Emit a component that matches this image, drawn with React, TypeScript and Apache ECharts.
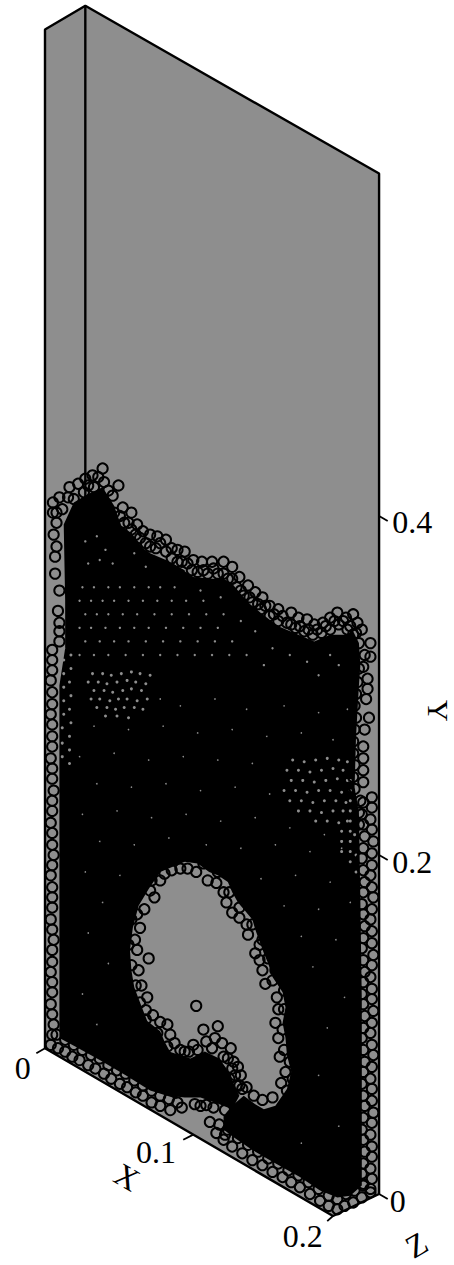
import React, { useEffect, useRef } from "react";
import * as echarts from "echarts";

// All values in thousandths of a plot unit on the projected view plane: [across, up]
const boxFace = [[0,687],[28,701],[232,602],[232,0],[200,-13],[0,86]];
const boxEdges = [
  [[0,86],[0,687],[28,701],[232,602],[232,0],[200,-13],[0,86]],
  [[28,701],[28,410]],
];
const tickSegments = [
  [[0,86],[-6,83]],[[103,35],[96,32]],[[200,-13],[196,-16]],
  [[232,400],[238,397]],[[232,200],[238,197]],[[232,0],[238,-3]],
];
const tickLabels: [number, number, string][] = [
  [-15.5,74.5,"0"],[77,25,"0.1"],[179,-24.5,"0.2"],
  [255,396.5,"0.4"],[255,196,"0.2"],[245,-4,"0"],
];
const axisNames: [number, number, string, number, number][] = [
  [57,10,"X",-30,32],[258,-30,"Z",30,32],[273.5,285,"Y",-90,30],
];

const coreLeft = [[10,92],[10,173],[10,232],[10,300],[14,322],[14,350],[13,395],[20,408],[30,413],[40,417],[48,406],[53,394],[60,390],[68,381],[73,378],[84,374],[97,368],[97,196],[80,190],[72,180],[65,170],[61,157],[59,144],[60,132],[62,122],[66,113],[71,102],[80,96],[83,90],[88,82],[92,70],[92,56],[73,61],[56,70],[38,79],[21,87]];
const coreRight = [[94,369],[103,364],[116,363],[124,363],[130,360],[141,349],[151,342],[162,335],[176,330],[187,326],[198,330],[209,330],[214,332],[218,325],[219,312],[218,300],[216,270],[215,240],[218,225],[219,173],[220,114],[220,55],[220,5],[212,-1],[203,-2],[191,2],[177,10],[158,19],[144,26],[130,34],[124,38],[124,46],[130,52],[138,58],[146,53],[152,50],[160,52],[168,62],[171,72],[168,82],[167,92],[165,101],[167,110],[165,119],[158,128],[155,136],[152,142],[146,156],[144,162],[138,168],[134,172],[130,178],[127,184],[120,188],[114,190],[106,195],[97,196],[94,196]];
const coreMound = [[86,84],[101,80],[111,84],[121,80],[126,74],[130,67],[135,58],[130,50],[118,54],[108,57],[97,57],[86,58]];

const crestOuter = [[5.5,408],[10,411],[17,417],[23,419],[28,422],[33,424],[40,428],[51,418],[54,405],[60,402],[64,395],[68,391],[73,389],[78,388],[84,386],[88,381],[92,380],[97,379],[103,374],[109,373],[116,373],[124,373],[130,370],[135,364],[141,359],[146,355],[151,352],[156,347],[162,345],[171,343],[176,340],[182,339],[187,336],[193,337],[198,340],[203,343],[209,340],[214,342],[217,337],[220,333],[226,325],[226,317]];
const crestMiddle = [[12,404],[20,410],[27,414],[34,417],[41,420],[47,412],[52,400],[58,396],[63,389],[70,384],[77,381],[84,379],[92,373],[99,372],[106,367],[113,366],[120,366],[127,363],[133,358],[138,353],[144,349],[150,345],[156,341],[162,338],[168,337],[174,334],[180,332],[186,330],[192,331],[198,333],[204,336],[210,333],[214,330],[218,325],[222,318],[221,311]];
const crestFill = [[8,402],[16,411],[30,418],[37,423],[44,415],[48,402],[55,396],[60,392],[66,387],[73,382],[80,384],[88,375],[95,373],[102,368],[110,368],[117,369],[124,366],[130,363],[136,356],[142,352],[148,348],[153,347],[159,342],[165,341],[171,336],[177,335],[183,333],[189,333],[195,335],[201,338],[207,338],[212,335],[216,331]];

const holeEdge = [[83,189],[88,191],[94,192],[99,192],[105,190],[113,185],[119,183.5],[124,178],[126,172],[130,166],[135,163],[140,159],[141,153],[146,142],[149,147],[149,138],[151,132],[153,124],[158,126],[161,116],[162,109],[160,101],[162,92],[165,97],[163,81],[167,72],[164,65.5],[158,57],[151,55.5],[145,58],[140,63],[133,64],[128,68],[80,185],[76,175],[69,168],[73,179],[66,157],[64,144],[62.5,150],[72,139],[65,132],[67,123],[71,116],[70,108.5],[75,105.5],[80,101.5],[85,100],[87,94],[90,89],[94,85],[97,84]];
const holeBacking = [[60,162],[58,147],[60,135],[63,123],[66,113],[70,103],[78,95],[85,87],[92,78],[74,185],[64,165],[120,190],[128,178],[135,169],[144,159],[151,150],[155,139],[160,132],[166,120],[166,109],[166,85],[170,78],[172,68],[168,61],[110,195]];
const moundGrains = [[105,111],[110,97],[120,99],[112,90],[118,92],[123,89],[129,86],[106,85],[124,81],[134,75],[130,74],[132,70],[135,64],[95,51],[104,53],[108,52],[112,52.5],[117,51],[125,49.5],[114.5,42.5],[119,36],[121,41],[125,35],[100,84],[103,88],[116,86],[127,80],[131,78],[136,70],[137,62]];

const floorLeftA = [[4,88],[9,86],[14,84],[19,81],[24,79],[30,76],[35,74],[41,71],[46,68],[52,65],[57,63],[63,60],[68,58],[74,54],[80,52],[87,49.5]];
const floorLeftB = [[8,94],[14,91],[20,88],[26,85],[32,82],[38,80],[44,76],[50,73],[56,71],[62,67],[68,64],[74,61],[80,58],[86,56],[92,54]];
const floorRightA = [[124,32],[130,28],[137,24],[144,20],[151,17],[158,13],[165,10],[171,7],[177,4],[184,0],[191,-4],[197,-7],[203,-9],[208,-7],[214,-5],[220,-2],[226,1]];
const floorRightB = [[127,38],[134,33],[141,29],[148,25],[155,21],[162,18],[169,14],[176,11],[183,7],[190,3],[197,-1],[203,-3],[209,0],[215,2],[221,5]];

const wallLeftUpper = [[5.5,402],[8,396],[6,389],[8,382],[7,376],[7,366],[10,356],[9,344],[10,337],[10,332],[10,326]];
const wallLeftOuter = [[5,321],[5,315],[5,309],[4,303],[5,296],[5,289],[4,283],[5,277],[5,270],[5,264],[4,257],[5,251],[5,245],[6,238],[5,232],[5,226],[4,219],[5,213],[5,206],[6,200],[5,194],[4,188],[5,181],[5,175],[5,169],[4,162],[5,156],[6,150],[5,144],[5,137],[4,131],[5,125],[5,119],[4,112],[5,106],[6,100],[5,94]];
const wallRightUpper = [[224,304],[224,298],[223,292],[225,281],[222,274],[221,264],[221,257],[221,250],[221,243],[218,310],[217,302],[216,295],[215,288],[216,281],[215,274],[214,267],[214,260],[215,253],[214,246],[215,239],[219,232],[218,225],[218,218]];
const wallRightOuter = [[227,234],[227,228],[226,221],[227,215],[228,208],[227,201],[227,194],[226,188],[227,181],[228,175],[227,168],[226,162],[227,155],[227,148],[228,141],[227,135],[226,128],[227,121],[227,115],[228,108],[227,101],[226,95],[227,88],[228,82],[227,75],[226,68],[227,62],[227,55],[228,48],[227,42],[226,35],[227,28],[227,22],[226,15],[227,9],[226,3]];
const wallRightInner = [[221,231],[220,224],[221,218],[222,211],[221,204],[220,198],[221,191],[222,184],[221,178],[220,171],[221,165],[222,158],[221,151],[220,145],[221,138],[222,131],[221,125],[220,118],[221,112],[222,105],[221,98],[220,92],[221,85],[222,78],[221,72],[220,65],[221,58],[222,52],[221,45],[220,38],[221,32],[222,25],[221,18],[220,12],[221,6]];

const patchCentre = [[33,307],[40,307],[46,306],[53,307],[60,308],[66,307],[73,306],[30,302],[37,302],[43,301],[50,302],[57,303],[63,302],[70,301],[34,297],[41,297],[47,296],[54,297],[60,298],[67,297],[32,292],[38,292],[45,291],[51,292],[57,292],[64,291],[71,292],[36,287],[43,287],[49,286],[55,287],[62,287],[68,286],[42,282],[50,282],[58,281]];
const patchRight = [[172,256],[180,255],[188,256],[196,257],[204,256],[210,255],[168,250],[176,250],[184,249],[192,250],[200,251],[207,250],[171,244],[179,244],[187,243],[195,244],[203,245],[210,244],[166,238],[174,238],[182,237],[190,238],[198,238],[206,237],[170,232],[178,232],[186,231],[194,232],[202,232],[209,231],[176,226],[184,226],[192,225],[200,226],[207,226],[188,220],[196,220],[204,219],[210,220]];
const patchLeftWall = [[13,322],[18,318],[13,315],[18,310],[13,307],[17,302],[13,299],[18,294],[13,291],[17,286],[13,283],[18,278],[12,275],[17,270],[12,266],[17,262],[12,258],[17,254]];
const patchRightWall = [[212,244],[212,238],[212,232],[212,226],[212,220],[212,214],[212,208],[206,214],[206,208],[206,202],[212,202],[212,196],[215,212],[216,200],[216,190]];
const patchBand = [[28,385],[36,388],[42,380],[30,372],[38,374],[47,372],[62,378],[70,370],[26,358],[34,358],[44,358],[52,358],[62,358],[72,358],[80,358],[90,358],[108,356],[24,350],[32,350],[40,350],[48,350],[58,350],[68,350],[78,350],[88,350],[98,350],[110,350],[122,352],[28,342],[36,342],[44,342],[54,342],[64,342],[76,342],[88,342],[100,342],[112,342],[124,342],[136,338],[24,334],[32,334],[42,334],[52,334],[62,334],[72,334],[84,334],[96,334],[108,334],[120,334],[146,332],[28,326],[38,326],[48,326],[58,326],[70,326],[82,326],[94,326],[106,326],[118,326],[130,326],[158,322],[170,318],[182,314],[198,318],[24,318],[34,318],[44,318],[56,318],[68,318],[80,318],[92,318],[104,318],[116,318],[128,318],[140,318],[152,312],[190,306],[204,312]];
const gapsMiddle = [[80,292],[94,288],[118,292],[140,286],[166,288],[190,284],[210,286],[34,276],[58,274],[82,276],[106,272],[130,274],[154,270],[178,272],[200,268],[24,258],[48,260],[72,256],[96,258],[120,256],[144,254],[36,242],[60,240],[84,242],[108,238],[132,240],[156,236],[26,224],[50,226],[74,222],[98,224],[122,220],[146,222],[170,216],[194,212]];
const gapsLower = [[38,208],[62,206],[86,210],[112,206],[136,204],[160,206],[184,202],[206,204],[28,190],[52,188],[150,186],[174,188],[198,184],[40,172],[166,170],[190,168],[212,172],[30,154],[178,152],[202,150],[44,136],[186,134],[26,118],[208,116],[36,100],[196,98],[190,70],[204,40],[178,30]];

const grainGroups = [crestOuter,crestMiddle,crestFill,holeEdge,holeBacking,moundGrains,floorLeftA,floorLeftB,floorRightA,floorRightB,wallLeftUpper,wallLeftOuter,wallRightUpper,wallRightOuter,wallRightInner];
const wideGaps = [patchCentre,patchRight,patchLeftWall,patchRightWall];
const fineGaps = [gapsMiddle,gapsLower];

const GRAY = "#8e8e8e";
const SERIF = "'Liberation Serif', serif";

function polygonSeries(points: number[][], fill: string) {
  return {
    type: "custom",
    silent: true,
    clip: false,
    data: [points[0]],
    renderItem: (_: unknown, api: any) => ({
      type: "polygon",
      shape: { points: points.map((p) => api.coord(p)) },
      style: { fill },
    }),
  };
}

function lineSeries(points: number[][], width: number) {
  return {
    type: "line",
    silent: true,
    data: points,
    symbol: "none",
    clip: false,
    lineStyle: { color: "#000000", width, opacity: 1 },
  };
}

function gapSeries(points: number[][], size: number) {
  return {
    type: "scatter",
    silent: true,
    data: points,
    symbol: "circle",
    symbolSize: size,
    itemStyle: { color: GRAY, opacity: 1 },
  };
}

const textLabel = {
  show: true,
  position: "inside",
  formatter: "{b}",
  fontFamily: SERIF,
  fontSize: 32,
  color: "#000",
  opacity: 1,
};

export default function App() {
  const ref = useRef<HTMLDivElement>(null);
  useEffect(() => {
    const chart = echarts.init(ref.current!, undefined, { renderer: "svg" });
    chart.setOption({
      animation: false,
      backgroundColor: "#ffffff",
      grid: { left: 0, right: 0, top: 0, bottom: 0 },
      xAxis: { type: "value", min: -31.25, max: 284.03, show: false },
      yAxis: { type: "value", min: -41.89, max: 704.4, show: false },
      series: [
        polygonSeries(boxFace, GRAY),
        ...boxEdges.map((e) => lineSeries(e, 2.4)),
        ...tickSegments.map((t) => lineSeries(t, 1.8)),
        polygonSeries(coreLeft, "#000000"),
        polygonSeries(coreRight, "#000000"),
        polygonSeries(coreMound, "#000000"),
        gapSeries(patchBand, 2.4),
        gapSeries(wideGaps.flat(), 3),
        gapSeries(fineGaps.flat(), 1.6),
        {
          type: "scatter",
          silent: true,
          data: grainGroups.flat(),
          symbol: "circle",
          symbolSize: 10.2,
          itemStyle: { color: "rgba(0,0,0,0)", borderColor: "#000", borderWidth: 2, opacity: 1 },
        },
        {
          type: "scatter",
          silent: true,
          data: tickLabels.map(([x, y, t]) => ({ value: [x, y], name: t })),
          symbolSize: 0,
          itemStyle: { opacity: 1 },
          label: textLabel,
        },
        {
          type: "scatter",
          silent: true,
          data: axisNames.map(([x, y, t, r, s]) => ({
            value: [x, y],
            name: t,
            label: { rotate: r, fontSize: s },
          })),
          symbolSize: 0,
          itemStyle: { opacity: 1 },
          label: textLabel,
        },
      ],
    });
    return () => chart.dispose();
  }, []);
  return <div ref={ref} style={{ position: "absolute", left: 0, top: 0, width: 454, height: 1265 }} />;
}
